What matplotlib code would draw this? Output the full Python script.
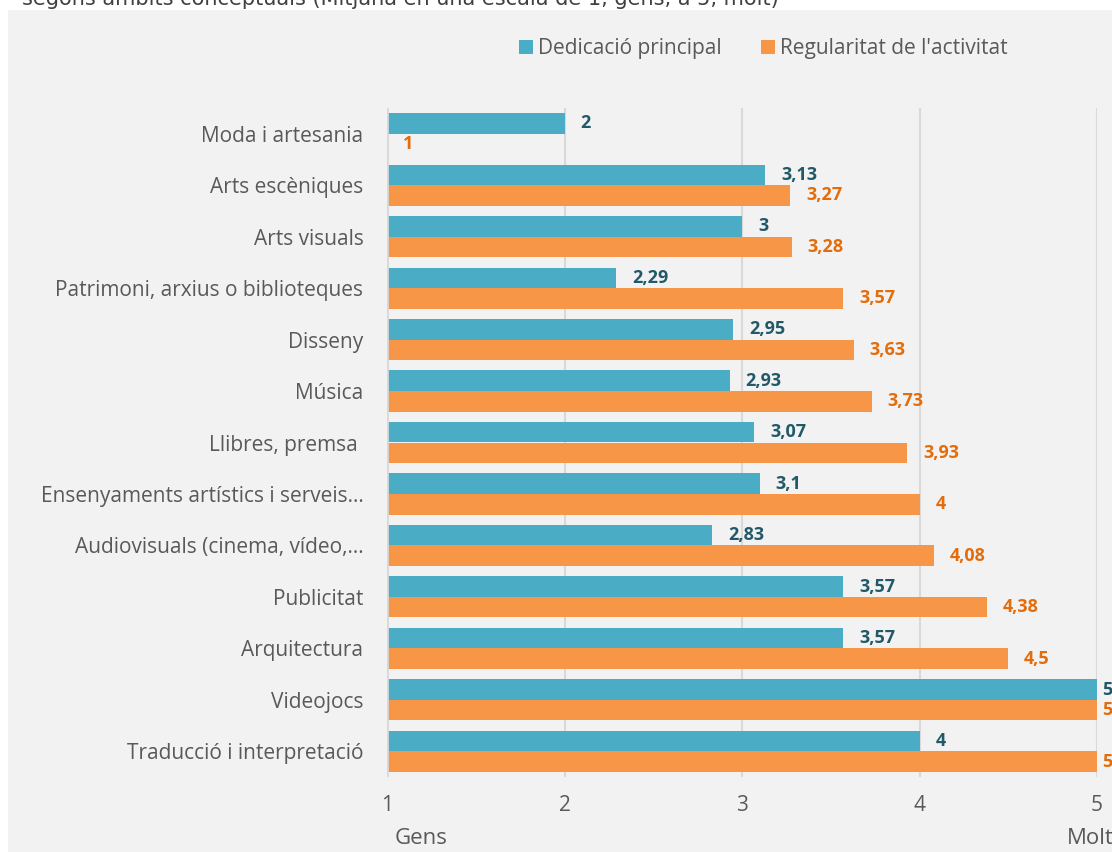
import matplotlib.pyplot as plt
import numpy as np
from matplotlib.patches import Rectangle

plt.rcParams['font.family'] = ['Open Sans', 'DejaVu Sans']

# Mean score per conceptual field (1 = gens, 5 = molt)
ambits = ["Moda i artesania", "Arts escèniques", "Arts visuals",
          "Patrimoni, arxius o biblioteques", "Disseny", "Música",
          "Llibres, premsa ", "Ensenyaments artístics i serveis…",
          "Audiovisuals (cinema, vídeo,…", "Publicitat", "Arquitectura",
          "Videojocs", "Traducció i interpretació"]
dedicacio = [2, 3.13, 3, 2.29, 2.95, 2.93, 3.07, 3.1, 2.83, 3.57, 3.57, 5, 4]
regularitat = [1, 3.27, 3.28, 3.57, 3.63, 3.73, 3.93, 4, 4.08, 4.38, 4.5, 5, 5]

blue = '#4bacc6'
orange = '#f79646'
blue_txt = '#215968'
orange_txt = '#e46c0a'
bg = '#f2f2f2'
grey_txt = '#595959'

fig = plt.figure(figsize=(11.12, 8.52), dpi=100, facecolor='white')
fig.patches.append(Rectangle((8 / 1112, 0), 1, 842 / 852, transform=fig.transFigure,
                             facecolor=bg, edgecolor='none', zorder=-10))
fig.text(22 / 1112, 1 - 5 / 852, "segons àmbits conceptuals (Mitjana en una escala de 1, gens, a 5, molt)",
         fontsize=15, color='#404040', va='baseline', ha='left', family=['DejaVu Sans'])

ax = fig.add_axes([387 / 1112, 75 / 852, 710 / 1112, 669 / 852])
ax.set_facecolor(bg)

y = np.arange(len(ambits))
h = 0.4
d = np.array(dedicacio)
r = np.array(regularitat)
ax.barh(y - h / 2, d - 1, left=1, height=h, color=blue, label='Dedicació principal', zorder=3)
ax.barh(y + h / 2, r - 1, left=1, height=h, color=orange, label="Regularitat de l'activitat", zorder=3)

def fmt(v):
    return ('%g' % v).replace('.', ',')

def off(v):
    # labels at the axis end sit closer to the bar
    return 3.5 if v >= 5 else 11.5

for i in range(len(ambits)):
    ax.annotate(fmt(d[i]), (d[i], y[i] - h / 2), xytext=(off(d[i]), 0), textcoords='offset points',
                va='center', ha='left', fontsize=13, fontweight='bold', color=blue_txt,
                annotation_clip=False)
    ax.annotate(fmt(r[i]), (r[i], y[i] + h / 2), xytext=(off(r[i]), 0), textcoords='offset points',
                va='center', ha='left', fontsize=13, fontweight='bold', color=orange_txt,
                annotation_clip=False)

ax.set_xlim(1, 5)
ax.set_ylim(len(ambits) - 0.5, -0.5)
ax.set_xticks([1, 2, 3, 4, 5])
ax.set_yticks(y)
ax.set_yticklabels(ambits)
ax.tick_params(axis='y', length=0, pad=17, labelsize=15, labelcolor=grey_txt)
ax.tick_params(axis='x', length=0, pad=13, labelsize=15, labelcolor=grey_txt)
ax.grid(axis='x', color='#d9d9d9', linewidth=1.5, zorder=0)
for s in ax.spines.values():
    s.set_visible(False)
ax.axvline(1, color='#d9d9d9', linewidth=2, zorder=4)

fig.text(421 / 1112, 1 - 839 / 852, "Gens", fontsize=16, color=grey_txt, ha='center', va='center')
fig.text(1114 / 1112, 1 - 839 / 852, "Molt", fontsize=16, color=grey_txt, ha='right', va='center')

fig.legend(loc='center left', bbox_to_anchor=(500 / 1112, 1 - 48.5 / 852), ncol=2, frameon=False,
           fontsize=15, handlelength=0.67, handleheight=0.67, handletextpad=0.25, columnspacing=1.9,
           labelcolor=grey_txt)

fig.savefig('out.png', dpi=100, facecolor=fig.get_facecolor())
